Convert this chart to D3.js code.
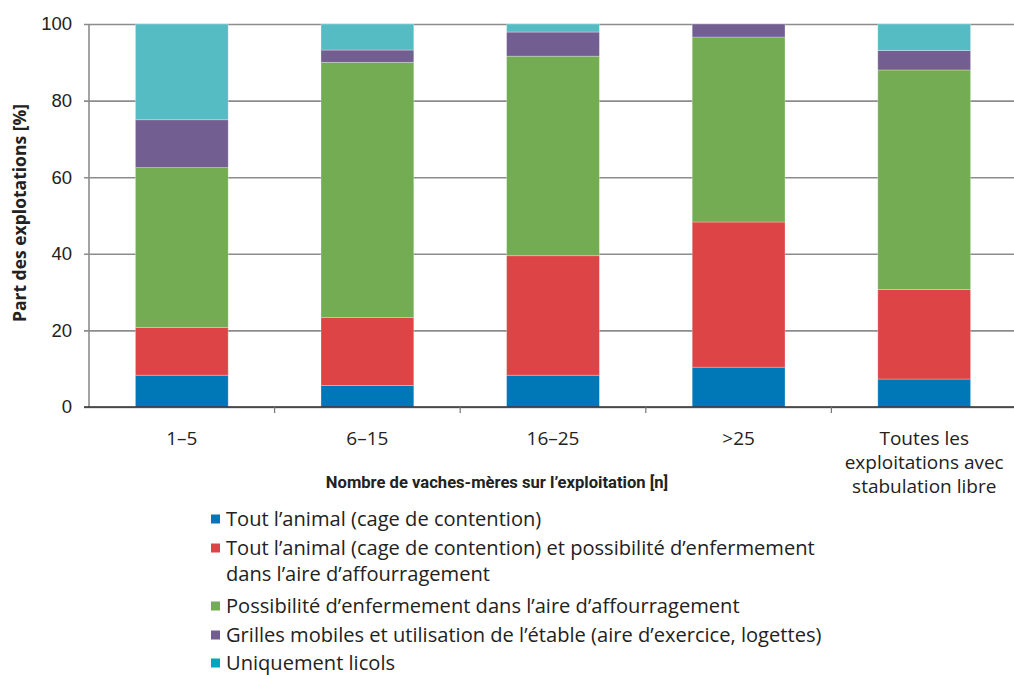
<!DOCTYPE html>
<html>
<head>
<meta charset="utf-8">
<script src="https://cdn.jsdelivr.net/npm/d3@7"></script>
<style>
  body { margin: 0; background: #fff; }
  svg { font-family: 'Open Sans', sans-serif; }
</style>
</head>
<body>
<script>
// data
const categories = ['1–5', '6–15', '16–25', '>25', 'Toutes les|exploitations avec|stabulation libre']
const seriesNames = [
  'Tout l’animal (cage de contention)',
  'Tout l’animal (cage de contention) et possibilité d’enfermement|dans l’aire d’affourragement',
  'Possibilité d’enfermement dans l’aire d’affourragement',
  'Grilles mobiles et utilisation de l’étable (aire d’exercice, logettes)',
  'Uniquement licols'
]
const cage = [8.3, 5.6, 8.3, 10.4, 7.3]
const cageEtAire = [12.5, 17.8, 31.2, 37.9, 23.4]
const aire = [41.7, 66.6, 52.1, 48.3, 57.3]
const grilles = [12.5, 3.2, 6.3, 3.4, 5.1]
const licols = [25.0, 6.8, 2.1, 0, 6.9]
const yTicks = [0, 20, 40, 60, 80, 100]

const barColors = ['#0077b7', '#dd4446', '#73ac53', '#725e90', '#56bcc3']
const legendColors = ['#0077b7', '#dd4446', '#73ac53', '#725e90', '#00a5c0']

// set the dimensions and margins of the graph
const margin = {top: 24, right: -3, bottom: 268, left: 89},
    width = 1014 - margin.left - margin.right,
    height = 675 - margin.top - margin.bottom

const svg = d3.select('body').append('svg')
    .attr('width', 1014)
    .attr('height', 675)

const g = svg.append('g')
    .attr('transform', 'translate(' + margin.left + ',' + margin.top + ')')

const keys = ['cage', 'cageEtAire', 'aire', 'grilles', 'licols']
const table = categories.map((c, i) => ({
  cat: c, cage: cage[i], cageEtAire: cageEtAire[i], aire: aire[i], grilles: grilles[i], licols: licols[i]
}))
const stacked = d3.stack().keys(keys)(table)

const x = d3.scaleBand()
    .domain(categories)
    .range([0, width])
    .paddingInner(0.5)
    .paddingOuter(0.25)
const y = d3.scaleLinear()
    .domain([0, 100])
    .range([height, 0])

// gridlines + y ticks
g.append('g')
    .call(d3.axisLeft(y).tickValues(yTicks).tickSize(-width).tickSizeOuter(0).tickPadding(17))
    .call(ax => ax.select('.domain').remove())
    .call(ax => ax.selectAll('.tick line')
        .attr('x1', -5)
        .attr('stroke', '#8c8c8c')
        .attr('stroke-width', 1.6))
    .call(ax => ax.selectAll('.tick text')
        .attr('fill', '#222')
        .style('font-size', '18.5px'))

// bars
g.selectAll('.series')
    .data(stacked)
    .enter().append('g')
    .attr('fill', (d, i) => barColors[i])
    .selectAll('rect')
    .data(d => d)
    .enter().append('rect')
    .attr('x', d => x(d.data.cat))
    .attr('width', x.bandwidth())
    .attr('y', d => y(d[1]))
    .attr('height', d => y(d[0]) - y(d[1]))
    .attr('stroke', 'rgba(255,255,255,0.35)')
    .attr('stroke-width', 0.8)

// left axis line
g.append('line')
    .attr('x1', 0).attr('x2', 0)
    .attr('y1', 0).attr('y2', height)
    .attr('stroke', '#8c8c8c')
    .attr('stroke-width', 1.6)

// bottom axis with ticks between categories
const step = x.step()
g.append('line')
    .attr('x1', -5).attr('x2', width)
    .attr('y1', height).attr('y2', height)
    .attr('stroke', '#333')
    .attr('stroke-width', 1.6)
g.selectAll('.xtick')
    .data(categories.slice(1))
    .enter().append('line')
    .attr('x1', d => x(d) - step / 4)
    .attr('x2', d => x(d) - step / 4)
    .attr('y1', height)
    .attr('y2', height + 6)
    .attr('stroke', '#777')
    .attr('stroke-width', 1.2)

// x labels
const xl = g.selectAll('.xlabel')
    .data(categories)
    .enter().append('text')
    .attr('text-anchor', 'middle')
    .attr('fill', '#222')
    .style('font-size', '19px')
    .attr('transform', d => 'translate(' + (x(d) + x.bandwidth() / 2) + ',' + (height + 38) + ')')
xl.selectAll('tspan')
    .data(d => d.split('|'))
    .enter().append('tspan')
    .attr('x', 0)
    .attr('y', (d, i) => i * 24)
    .text(d => d)

// axis titles
svg.append('text')
    .attr('x', 497)
    .attr('y', 488)
    .attr('text-anchor', 'middle')
    .attr('fill', '#222')
    .style('font-family', 'Roboto, sans-serif')
    .style('font-weight', 'bold')
    .style('font-size', '16.6px')
    .text('Nombre de vaches-mères sur l’exploitation [n]')

svg.append('text')
    .attr('transform', 'translate(26,213) rotate(-90)')
    .attr('text-anchor', 'middle')
    .attr('fill', '#222')
    .style('font-weight', 'bold')
    .style('font-size', '17.5px')
    .text('Part des explotations [%]')

// legend
const legendY = [519, 548, 606, 635, 663]
const legend = svg.selectAll('.legend')
    .data(seriesNames)
    .enter().append('g')
    .attr('transform', (d, i) => 'translate(211,' + legendY[i] + ')')
legend.append('rect')
    .attr('x', 0)
    .attr('y', -4.5)
    .attr('width', 9)
    .attr('height', 9)
    .attr('fill', (d, i) => legendColors[i])
const lt = legend.append('text')
    .attr('fill', '#222')
    .style('font-size', '20.1px')
lt.selectAll('tspan')
    .data(d => d.split('|'))
    .enter().append('tspan')
    .attr('x', 15)
    .attr('y', (d, i) => 7 + i * 26)
    .text(d => d)
</script>
</body>
</html>
